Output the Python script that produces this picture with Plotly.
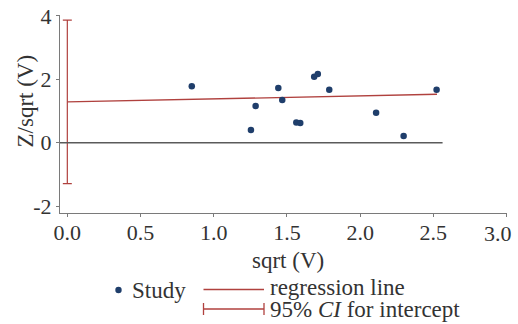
import plotly.graph_objects as go

# ---- data ----
study_x = [0.85, 1.254, 1.286, 1.441, 1.468, 1.564, 1.591, 1.686, 1.711, 1.789, 2.109, 2.297, 2.522]
study_y = [1.78, 0.40, 1.16, 1.73, 1.35, 0.64, 0.62, 2.08, 2.17, 1.67, 0.945, 0.21, 1.67]
intercept = 1.29
slope = 0.095
ci_low = -1.29
ci_high = 3.87
reg_x = [0.0, 2.525]
zero_line_end = 2.563
x_ticks = [0.0, 0.5, 1.0, 1.5, 2.0, 2.5, 3.0]
x_tick_labels = ["0.0", "0.5", "1.0", "1.5", "2.0", "2.5", "3.0"]
y_ticks = [-2, 0, 2, 4]
y_tick_labels = ["-2", "0", "2", "4"]

W, H = 518, 324
ML, MR, MT, MB = 60, 11, 15, 111
PW, PH = W - ML - MR, H - MT - MB

FONT = "Liberation Serif, DejaVu Serif, serif"
RED = "#b0413e"
NAVY = "#1f3e6b"
GRAY = "#7a7a7a"
TXT = "#333333"
FS = 23
TFS = 22


def px(x):
    return (x - ML) / PW


def py(y):
    return (H - MB - y) / PH


fig = go.Figure()

# zero reference line
fig.add_shape(type="line", xref="x", yref="y", x0=-0.05, x1=zero_line_end, y0=0, y1=0,
              line=dict(color="#5a5a5a", width=1.4))

# regression line
fig.add_trace(go.Scatter(x=reg_x, y=[intercept + slope * v for v in reg_x], mode="lines",
                         line=dict(color=RED, width=1.3), showlegend=False, hoverinfo="skip"))

# CI for intercept
fig.add_trace(go.Scatter(x=[0.0], y=[intercept], mode="markers",
                         marker=dict(size=1, opacity=0),
                         error_y=dict(type="data", symmetric=False,
                                      array=[ci_high - intercept],
                                      arrayminus=[intercept - ci_low],
                                      color=RED, thickness=1.2, width=4.5),
                         showlegend=False, hoverinfo="skip"))

# studies
fig.add_trace(go.Scatter(x=study_x, y=study_y, mode="markers",
                         marker=dict(color=NAVY, size=6.5), showlegend=False))

# ---- manual legend ----
shapes = []
cx, cy, r = 118.5, 290, 3.2
shapes.append(dict(type="circle", xref="paper", yref="paper",
                   x0=px(cx - r), x1=px(cx + r), y0=py(cy + r), y1=py(cy - r),
                   fillcolor=NAVY, line=dict(width=0)))
shapes.append(dict(type="line", xref="paper", yref="paper", x0=px(203.5), x1=px(264),
                   y0=py(289.5), y1=py(289.5), line=dict(color=RED, width=1.3)))
shapes.append(dict(type="line", xref="paper", yref="paper", x0=px(203.5), x1=px(264),
                   y0=py(309), y1=py(309), line=dict(color=RED, width=1.3)))
for xx in (203.5, 264):
    shapes.append(dict(type="line", xref="paper", yref="paper", x0=px(xx), x1=px(xx),
                       y0=py(303), y1=py(315), line=dict(color=RED, width=1.3)))
for s in shapes:
    fig.add_shape(**s)

lf = dict(family=FONT, size=FS, color=TXT)
fig.add_annotation(xref="paper", yref="paper", x=px(130), y=py(290), text="Study",
                   showarrow=False, xanchor="left", yanchor="middle", font=lf)
fig.add_annotation(xref="paper", yref="paper", x=px(268), y=py(287), text="regression line",
                   showarrow=False, xanchor="left", yanchor="middle", font=lf)
fig.add_annotation(xref="paper", yref="paper", x=px(268), y=py(309), text="95% <i>CI</i> for intercept",
                   showarrow=False, xanchor="left", yanchor="middle", font=lf)

# axis titles
fig.add_annotation(xref="paper", yref="paper", x=px(288), y=py(260), text="sqrt (V)",
                   showarrow=False, xanchor="center", yanchor="middle", font=lf)
fig.add_annotation(xref="paper", yref="paper", x=px(25), y=py(101.5), text="Z/sqrt (V)",
                   showarrow=False, xanchor="center", yanchor="middle", textangle=-90, font=lf)

# last x tick label kept inside the picture (as in the reference)
axis_ticktext = x_tick_labels[:-1] + [""]
fig.add_annotation(xref="x", yref="paper", x=x_ticks[-1], xshift=7, y=py(233),
                   text=x_tick_labels[-1], showarrow=False, xanchor="right", yanchor="middle",
                   font=dict(family=FONT, size=TFS, color=TXT))

axfont = dict(family=FONT, size=TFS, color=TXT)
fig.update_layout(
    width=W, height=H,
    margin=dict(l=ML, r=MR, t=MT, b=MB, autoexpand=False),
    paper_bgcolor="white", plot_bgcolor="white",
    font=dict(family=FONT, size=FS, color=TXT),
    xaxis=dict(range=[-0.05, 3.003], tickvals=x_ticks, ticktext=axis_ticktext, automargin=False,
               ticklabeloverflow="allow", ticklabelstandoff=-4,
               showgrid=False, zeroline=False, showline=True, linecolor=GRAY, linewidth=1.2,
               ticks="outside", ticklen=3, tickcolor=GRAY, tickwidth=1, tickfont=axfont),
    yaxis=dict(range=[-2.215, 4.03], tickvals=y_ticks, ticktext=y_tick_labels, automargin=False,
               ticklabeloverflow="allow",
               showgrid=False, zeroline=False, showline=True, linecolor=GRAY, linewidth=1.2,
               ticks="outside", ticklen=3, tickcolor=GRAY, tickwidth=1, tickfont=axfont),
)

fig.write_html("out.html")
